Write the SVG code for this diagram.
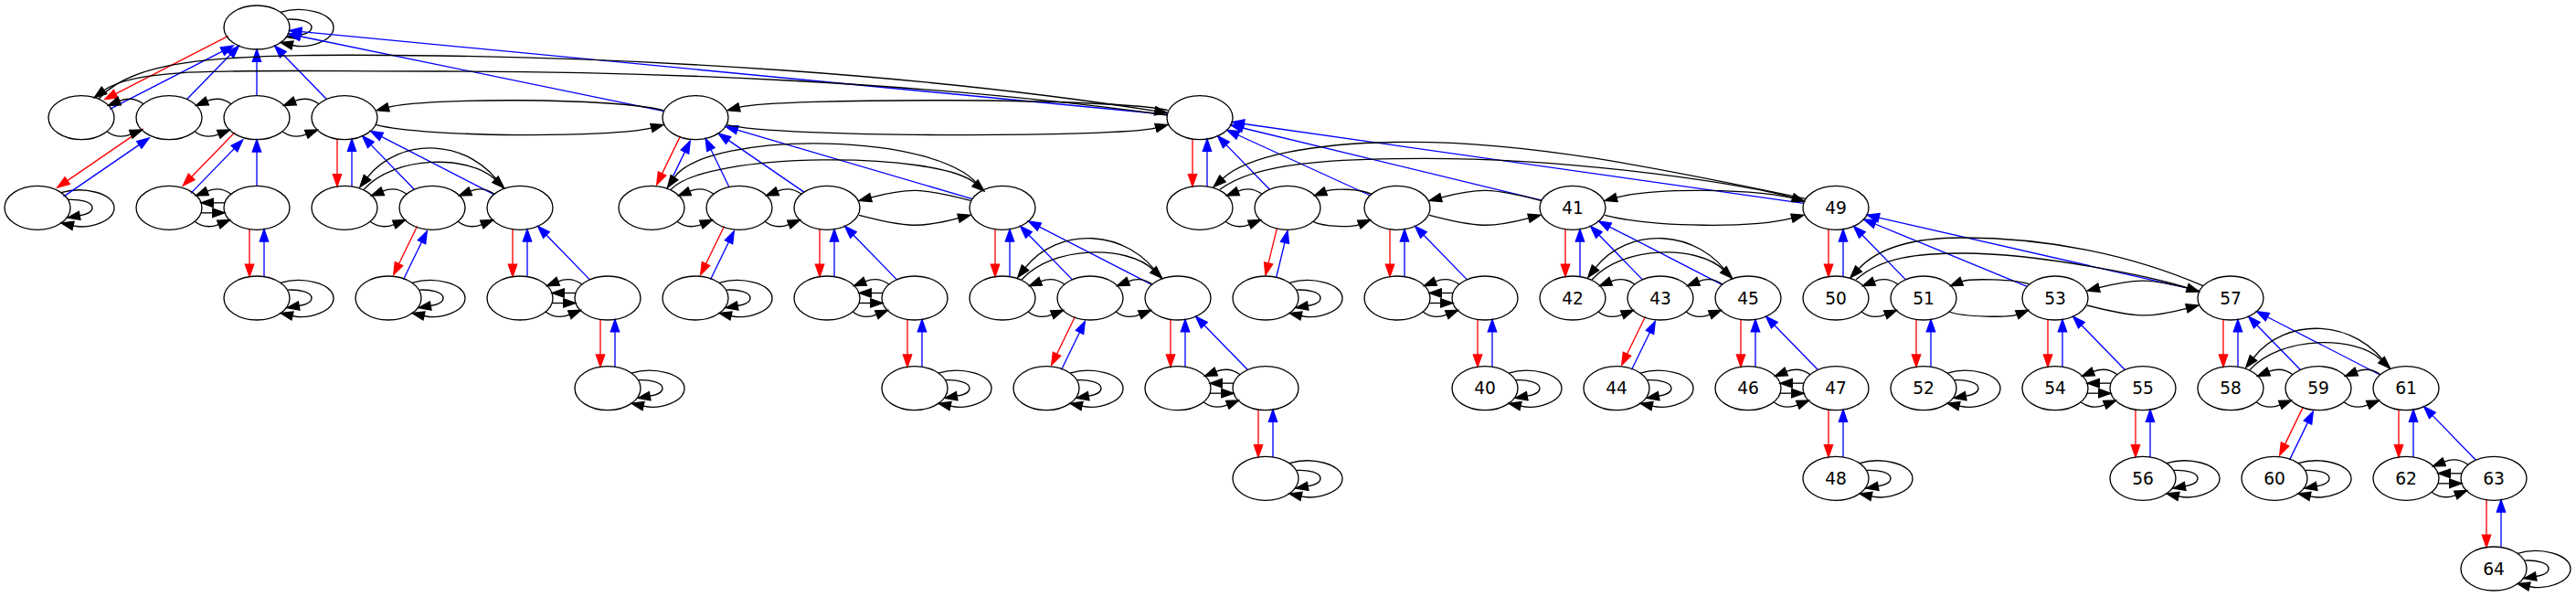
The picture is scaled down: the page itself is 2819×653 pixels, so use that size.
<svg xmlns="http://www.w3.org/2000/svg" width="2819" height="653" viewBox="0 0 2819 653">
<style>
.n{fill:none;stroke:#000;stroke-width:1.33}
.t{font-family:"DejaVu Sans",sans-serif;font-size:18.67px;text-anchor:middle;fill:#000}
.k{fill:none;stroke:#000;stroke-width:1.33;marker-end:url(#ab)}
.r{fill:none;stroke:#f00;stroke-width:1.33;marker-end:url(#ar)}
.u{fill:none;stroke:#00f;stroke-width:1.33;marker-end:url(#au)}
</style>
<defs>
<marker id="ab" viewBox="-1 -6 16 12" markerWidth="16" markerHeight="12" refX="0" refY="0" orient="auto" markerUnits="userSpaceOnUse"><path d="M0,-4.67L13.33,0L0,4.67Z" fill="#000" stroke="#000" stroke-width="1.33"/></marker>
<marker id="ar" viewBox="-1 -6 16 12" markerWidth="16" markerHeight="12" refX="0" refY="0" orient="auto" markerUnits="userSpaceOnUse"><path d="M0,-4.67L13.33,0L0,4.67Z" fill="#f00" stroke="#f00" stroke-width="1.33"/></marker>
<marker id="au" viewBox="-1 -6 16 12" markerWidth="16" markerHeight="12" refX="0" refY="0" orient="auto" markerUnits="userSpaceOnUse"><path d="M0,-4.67L13.33,0L0,4.67Z" fill="#00f" stroke="#00f" stroke-width="1.33"/></marker>
<g id="loops"><path class="k" d="M33.9,-8.9C46.7,-9.5 60,-6.6 60,0C60,4.3 54.3,7.1 46.2,8.5"/><path class="k" d="M26,-16.6C50,-24 84,-16 84,0C84,14 58.4,23.9 39,19.5"/></g>
<g id="vp"><path class="r" d="M-8,23.4L-8,61.94"/><path class="u" d="M8,75.27L8,36.73"/></g>
<g id="dp48"><path class="r" d="M-16.51,20.2L-36.46,61.22"/><path class="u" d="M-31.49,78.47L-11.54,37.45"/></g>
<g id="s96"><path class="k" d="M28,15C36,21 46,21.5 54.3,18.2"/><path class="k" d="M68,-15C60,-21 50,-21.5 41.7,-18.2"/></g>
<g id="p4"><path class="k" d="M28,15C36,21 46,21.5 54.3,18.2"/><path class="k" d="M35,5.5L47.7,5.5"/><path class="k" d="M61,-5.5L48.3,-5.5"/><path class="k" d="M68,-15C60,-21 50,-21.5 41.7,-18.2"/></g>
<g id="s192"><path class="k" d="M35,8C89,22 103,22 144,11.3"/><path class="k" d="M157,-8C103,-22 89,-22 48,-11.3"/></g>
<g id="w192"><path class="k" d="M174,-21C137,-78 60,-78 25,-33.2"/><path class="k" d="M21,-20C55,-58 137,-58 165,-31"/></g>
<path id="bm96" class="u" d="M-19.59,-20.13L-67.11,-68.99"/>
<path id="bm192" class="u" d="M-28.51,-14.65L-151.64,-77.93"/>
<path id="b0" class="u" d="M0,-24L0,-61.33"/>
</defs>
<rect width="2819" height="653" fill="#fff"/>
<g id="connectors">
<use href="#loops" x="281" y="30"/>
<use href="#loops" x="41" y="227.33"/>
<use href="#loops" x="281" y="326"/>
<use href="#loops" x="425" y="326"/>
<use href="#loops" x="665" y="424.67"/>
<use href="#loops" x="761" y="326"/>
<use href="#loops" x="1001" y="424.67"/>
<use href="#loops" x="1145" y="424.67"/>
<use href="#loops" x="1385" y="523.33"/>
<use href="#loops" x="1385" y="326"/>
<use href="#loops" x="1625" y="424.67"/>
<use href="#loops" x="1769" y="424.67"/>
<use href="#loops" x="2009" y="523.33"/>
<use href="#loops" x="2105" y="424.67"/>
<use href="#loops" x="2345" y="523.33"/>
<use href="#loops" x="2489" y="523.33"/>
<use href="#loops" x="2729" y="622"/>
<use href="#vp" x="377" y="128.67"/>
<use href="#vp" x="281" y="227.33"/>
<use href="#vp" x="569" y="227.33"/>
<use href="#vp" x="665" y="326"/>
<use href="#vp" x="905" y="227.33"/>
<use href="#vp" x="1001" y="326"/>
<use href="#vp" x="1097" y="227.33"/>
<use href="#vp" x="1289" y="326"/>
<use href="#vp" x="1385" y="424.67"/>
<use href="#vp" x="1313" y="128.67"/>
<use href="#vp" x="1529" y="227.33"/>
<use href="#vp" x="1625" y="326"/>
<use href="#vp" x="1721" y="227.33"/>
<use href="#vp" x="1913" y="326"/>
<use href="#vp" x="2009" y="424.67"/>
<use href="#vp" x="2009" y="227.33"/>
<use href="#vp" x="2105" y="326"/>
<use href="#vp" x="2249" y="326"/>
<use href="#vp" x="2345" y="424.67"/>
<use href="#vp" x="2441" y="326"/>
<use href="#vp" x="2633" y="424.67"/>
<use href="#vp" x="2729" y="523.33"/>
<use href="#dp48" x="473" y="227.33"/>
<use href="#dp48" x="761" y="128.67"/>
<use href="#dp48" x="809" y="227.33"/>
<use href="#dp48" x="1193" y="326"/>
<use href="#dp48" x="1817" y="326"/>
<use href="#dp48" x="2537" y="424.67"/>
<path class="r" d="M249.75,39.31L126.6,102.6"/>
<path class="u" d="M120.25,119.4L243.4,56.1"/>
<path class="r" d="M156.5,140.9L73.7,197.6"/>
<path class="u" d="M69.5,215.1L152.3,158.4"/>
<path class="r" d="M257.1,144.6L209.6,193.5"/>
<path class="u" d="M208.9,211.4L256.4,162.5"/>
<path class="r" d="M1397.41,249.6L1388.08,287.94"/>
<path class="u" d="M1396.59,303.73L1405.92,265.39"/>
<use href="#b0" x="281" y="128.67"/>
<use href="#b0" x="281" y="227.33"/>
<use href="#bm96" x="377" y="128.67"/>
<use href="#bm96" x="473" y="227.33"/>
<use href="#bm96" x="665" y="326"/>
<use href="#bm96" x="1001" y="326"/>
<use href="#bm96" x="1193" y="326"/>
<use href="#bm96" x="1385" y="424.67"/>
<use href="#bm96" x="1409" y="227.33"/>
<use href="#bm96" x="1625" y="326"/>
<use href="#bm96" x="1817" y="326"/>
<use href="#bm96" x="2009" y="424.67"/>
<use href="#bm96" x="2105" y="326"/>
<use href="#bm96" x="2345" y="424.67"/>
<use href="#bm96" x="2537" y="424.67"/>
<use href="#bm96" x="2729" y="523.33"/>
<use href="#bm192" x="569" y="227.33"/>
<use href="#bm192" x="1289" y="326"/>
<use href="#bm192" x="1913" y="326"/>
<use href="#bm192" x="2633" y="424.67"/>
<path class="u" d="M204.59,108.54L252.11,59.68"/>
<path class="u" d="M726.6,121.6L328.46,39.75"/>
<path class="u" d="M1277.36,125.26L329.91,34.68"/>
<path class="u" d="M797.89,204.5L777.94,163.48"/>
<path class="u" d="M879.89,210.13L797.11,153.39"/>
<path class="u" d="M1064.05,217.65L806.74,142.1"/>
<path class="u" d="M1499.3,213.76L1354.82,147.77"/>
<path class="u" d="M1687.15,219.14L1359.81,139.98"/>
<path class="u" d="M1973.78,222.34L1361.42,135.52"/>
<path class="u" d="M2218.36,313.4L2051.97,245"/>
<path class="u" d="M2406.95,318.22L2056.05,238.08"/>
<use href="#s96" x="89" y="128.67"/>
<use href="#s96" x="185" y="128.67"/>
<use href="#s96" x="281" y="128.67"/>
<use href="#s96" x="377" y="227.33"/>
<use href="#s96" x="473" y="227.33"/>
<use href="#s96" x="713" y="227.33"/>
<use href="#s96" x="809" y="227.33"/>
<use href="#s96" x="1313" y="227.33"/>
<use href="#s96" x="1097" y="326"/>
<use href="#s96" x="1193" y="326"/>
<use href="#s96" x="1721" y="326"/>
<use href="#s96" x="1817" y="326"/>
<use href="#s96" x="2009" y="326"/>
<use href="#s96" x="2441" y="424.67"/>
<use href="#s96" x="2537" y="424.67"/>
<use href="#p4" x="185" y="227.33"/>
<use href="#p4" x="569" y="326"/>
<use href="#p4" x="905" y="326"/>
<use href="#p4" x="1529" y="326"/>
<use href="#p4" x="1289" y="424.67"/>
<use href="#p4" x="1913" y="424.67"/>
<use href="#p4" x="2249" y="424.67"/>
<use href="#p4" x="2633" y="523.33"/>
<use href="#s192" x="905" y="227.33"/>
<use href="#s192" x="1529" y="227.33"/>
<use href="#s192" x="2249" y="326"/>
<use href="#w192" x="377" y="227.33"/>
<use href="#w192" x="1097" y="326"/>
<use href="#w192" x="1721" y="326"/>
<use href="#w192" x="2441" y="424.67"/>
<g transform="translate(1409,227.33)"><path class="k" d="M28,15C40,21 70,21.5 78.3,18.2"/><path class="k" d="M92,-15C80,-21 50,-21.5 41.7,-18.2"/></g>
<g transform="translate(2105,326)"><path class="k" d="M28,15C44,21 94,21.5 102.3,18.2"/><path class="k" d="M116,-15C100,-21 50,-21.5 41.7,-18.2"/></g>
<g transform="translate(1721,227.33)"><path class="k" d="M35,8C89,22 199,22 240,11.3"/><path class="k" d="M253,-8C199,-22 89,-22 48,-11.3"/></g>
<g transform="translate(377,128.67)"><path class="k" d="M35,8C89,22 295,22 336,11.3"/><path class="k" d="M349,-8C295,-22 89,-22 48,-11.3"/></g>
<g transform="translate(761,128.67)"><path class="k" d="M35,8C89,22 463,22 504,11.3"/><path class="k" d="M517,-8C463,-22 89,-22 48,-11.3"/></g>
<g transform="translate(713,227.33)"><path class="k" d="M362,-19C324,-85 60,-85 25,-33.2"/><path class="k" d="M21,-20C60,-62 314,-62 354,-27"/></g>
<g transform="translate(2009,326)"><path class="k" d="M402,-13.3C322,-48 230,-66 138,-66C70,-66 40,-48 25,-32"/><path class="k" d="M22,-20C50,-45 90,-49 140,-49C220,-49 347,-23.5 384.8,-11.1"/></g>
<g transform="translate(1313,227.33)"><path class="k" d="M663,-10C496,-45 360,-72 230,-72C120,-72 50,-55 25,-32"/><path class="k" d="M22,-20C60,-50 150,-54 247,-54C420,-54 611,-23.5 648.8,-11.1"/></g>
<path class="k" d="M108,108C150,62 250,58 480,61C700,64 1000,80 1264,121.3"/>
<path class="k" d="M1277.5,126C1000,88 700,78 480,78C260,78 150,72 114,98.8"/>
</g>
<g id="nodes">
<g id="n1"><ellipse class="n" cx="281" cy="30" rx="36" ry="24"/></g>
<g id="n2"><ellipse class="n" cx="89" cy="128.67" rx="36" ry="24"/></g>
<g id="n3"><ellipse class="n" cx="185" cy="128.67" rx="36" ry="24"/></g>
<g id="n4"><ellipse class="n" cx="281" cy="128.67" rx="36" ry="24"/></g>
<g id="n5"><ellipse class="n" cx="377" cy="128.67" rx="36" ry="24"/></g>
<g id="n6"><ellipse class="n" cx="761" cy="128.67" rx="36" ry="24"/></g>
<g id="n7"><ellipse class="n" cx="1313" cy="128.67" rx="36" ry="24"/></g>
<g id="n8"><ellipse class="n" cx="41" cy="227.33" rx="36" ry="24"/></g>
<g id="n9"><ellipse class="n" cx="185" cy="227.33" rx="36" ry="24"/></g>
<g id="n10"><ellipse class="n" cx="281" cy="227.33" rx="36" ry="24"/></g>
<g id="n11"><ellipse class="n" cx="377" cy="227.33" rx="36" ry="24"/></g>
<g id="n12"><ellipse class="n" cx="473" cy="227.33" rx="36" ry="24"/></g>
<g id="n13"><ellipse class="n" cx="569" cy="227.33" rx="36" ry="24"/></g>
<g id="n14"><ellipse class="n" cx="713" cy="227.33" rx="36" ry="24"/></g>
<g id="n15"><ellipse class="n" cx="809" cy="227.33" rx="36" ry="24"/></g>
<g id="n16"><ellipse class="n" cx="905" cy="227.33" rx="36" ry="24"/></g>
<g id="n17"><ellipse class="n" cx="1097" cy="227.33" rx="36" ry="24"/></g>
<g id="n18"><ellipse class="n" cx="1313" cy="227.33" rx="36" ry="24"/></g>
<g id="n19"><ellipse class="n" cx="1409" cy="227.33" rx="36" ry="24"/></g>
<g id="n20"><ellipse class="n" cx="1529" cy="227.33" rx="36" ry="24"/></g>
<g id="n21"><ellipse class="n" cx="1721" cy="227.33" rx="36" ry="24"/><text class="t" x="1721" y="233.83">41</text></g>
<g id="n22"><ellipse class="n" cx="2009" cy="227.33" rx="36" ry="24"/><text class="t" x="2009" y="233.83">49</text></g>
<g id="n23"><ellipse class="n" cx="281" cy="326" rx="36" ry="24"/></g>
<g id="n24"><ellipse class="n" cx="425" cy="326" rx="36" ry="24"/></g>
<g id="n25"><ellipse class="n" cx="569" cy="326" rx="36" ry="24"/></g>
<g id="n26"><ellipse class="n" cx="665" cy="326" rx="36" ry="24"/></g>
<g id="n27"><ellipse class="n" cx="761" cy="326" rx="36" ry="24"/></g>
<g id="n28"><ellipse class="n" cx="905" cy="326" rx="36" ry="24"/></g>
<g id="n29"><ellipse class="n" cx="1001" cy="326" rx="36" ry="24"/></g>
<g id="n30"><ellipse class="n" cx="1097" cy="326" rx="36" ry="24"/></g>
<g id="n31"><ellipse class="n" cx="1193" cy="326" rx="36" ry="24"/></g>
<g id="n32"><ellipse class="n" cx="1289" cy="326" rx="36" ry="24"/></g>
<g id="n33"><ellipse class="n" cx="1385" cy="326" rx="36" ry="24"/></g>
<g id="n34"><ellipse class="n" cx="1529" cy="326" rx="36" ry="24"/></g>
<g id="n35"><ellipse class="n" cx="1625" cy="326" rx="36" ry="24"/></g>
<g id="n36"><ellipse class="n" cx="1721" cy="326" rx="36" ry="24"/><text class="t" x="1721" y="332.5">42</text></g>
<g id="n37"><ellipse class="n" cx="1817" cy="326" rx="36" ry="24"/><text class="t" x="1817" y="332.5">43</text></g>
<g id="n38"><ellipse class="n" cx="1913" cy="326" rx="36" ry="24"/><text class="t" x="1913" y="332.5">45</text></g>
<g id="n39"><ellipse class="n" cx="2009" cy="326" rx="36" ry="24"/><text class="t" x="2009" y="332.5">50</text></g>
<g id="n40"><ellipse class="n" cx="2105" cy="326" rx="36" ry="24"/><text class="t" x="2105" y="332.5">51</text></g>
<g id="n41"><ellipse class="n" cx="2249" cy="326" rx="36" ry="24"/><text class="t" x="2249" y="332.5">53</text></g>
<g id="n42"><ellipse class="n" cx="2441" cy="326" rx="36" ry="24"/><text class="t" x="2441" y="332.5">57</text></g>
<g id="n43"><ellipse class="n" cx="665" cy="424.67" rx="36" ry="24"/></g>
<g id="n44"><ellipse class="n" cx="1001" cy="424.67" rx="36" ry="24"/></g>
<g id="n45"><ellipse class="n" cx="1145" cy="424.67" rx="36" ry="24"/></g>
<g id="n46"><ellipse class="n" cx="1289" cy="424.67" rx="36" ry="24"/></g>
<g id="n47"><ellipse class="n" cx="1385" cy="424.67" rx="36" ry="24"/></g>
<g id="n48"><ellipse class="n" cx="1625" cy="424.67" rx="36" ry="24"/><text class="t" x="1625" y="431.17">40</text></g>
<g id="n49"><ellipse class="n" cx="1769" cy="424.67" rx="36" ry="24"/><text class="t" x="1769" y="431.17">44</text></g>
<g id="n50"><ellipse class="n" cx="1913" cy="424.67" rx="36" ry="24"/><text class="t" x="1913" y="431.17">46</text></g>
<g id="n51"><ellipse class="n" cx="2009" cy="424.67" rx="36" ry="24"/><text class="t" x="2009" y="431.17">47</text></g>
<g id="n52"><ellipse class="n" cx="2105" cy="424.67" rx="36" ry="24"/><text class="t" x="2105" y="431.17">52</text></g>
<g id="n53"><ellipse class="n" cx="2249" cy="424.67" rx="36" ry="24"/><text class="t" x="2249" y="431.17">54</text></g>
<g id="n54"><ellipse class="n" cx="2345" cy="424.67" rx="36" ry="24"/><text class="t" x="2345" y="431.17">55</text></g>
<g id="n55"><ellipse class="n" cx="2441" cy="424.67" rx="36" ry="24"/><text class="t" x="2441" y="431.17">58</text></g>
<g id="n56"><ellipse class="n" cx="2537" cy="424.67" rx="36" ry="24"/><text class="t" x="2537" y="431.17">59</text></g>
<g id="n57"><ellipse class="n" cx="2633" cy="424.67" rx="36" ry="24"/><text class="t" x="2633" y="431.17">61</text></g>
<g id="n58"><ellipse class="n" cx="1385" cy="523.33" rx="36" ry="24"/></g>
<g id="n59"><ellipse class="n" cx="2009" cy="523.33" rx="36" ry="24"/><text class="t" x="2009" y="529.83">48</text></g>
<g id="n60"><ellipse class="n" cx="2345" cy="523.33" rx="36" ry="24"/><text class="t" x="2345" y="529.83">56</text></g>
<g id="n61"><ellipse class="n" cx="2489" cy="523.33" rx="36" ry="24"/><text class="t" x="2489" y="529.83">60</text></g>
<g id="n62"><ellipse class="n" cx="2633" cy="523.33" rx="36" ry="24"/><text class="t" x="2633" y="529.83">62</text></g>
<g id="n63"><ellipse class="n" cx="2729" cy="523.33" rx="36" ry="24"/><text class="t" x="2729" y="529.83">63</text></g>
<g id="n64"><ellipse class="n" cx="2729" cy="622" rx="36" ry="24"/><text class="t" x="2729" y="628.5">64</text></g>
</g>
</svg>
